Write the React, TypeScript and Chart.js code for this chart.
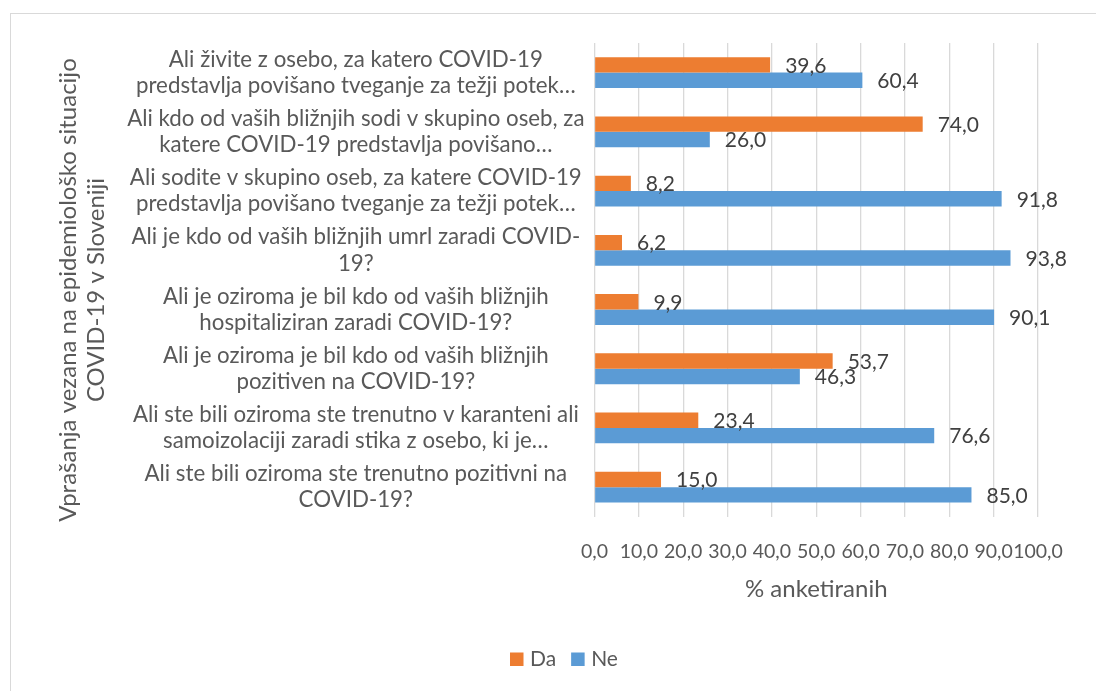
import React, { useEffect, useRef } from "react";
import { Chart, registerables } from "chart.js";

Chart.register(...registerables);

const categories: string[][] = [
  ["Ali živite z osebo, za katero COVID-19", "predstavlja povišano tveganje za težji potek…"],
  ["Ali kdo od vaših bližnjih sodi v skupino oseb, za", "katere COVID-19 predstavlja povišano…"],
  ["Ali sodite v skupino oseb, za katere COVID-19", "predstavlja povišano tveganje za težji potek…"],
  ["Ali je kdo od vaših bližnjih umrl zaradi COVID-", "19?"],
  ["Ali je oziroma je bil kdo od vaših bližnjih", "hospitaliziran zaradi COVID-19?"],
  ["Ali je oziroma je bil kdo od vaših bližnjih", "pozitiven na COVID-19?"],
  ["Ali ste bili oziroma ste trenutno v karanteni ali", "samoizolaciji zaradi stika z osebo, ki je…"],
  ["Ali ste bili oziroma ste trenutno pozitivni na", "COVID-19?"],
];
const daValues: number[] = [39.6, 74.0, 8.2, 6.2, 9.9, 53.7, 23.4, 15.0];
const neValues: number[] = [60.4, 26.0, 91.8, 93.8, 90.1, 46.3, 76.6, 85.0];
const seriesNames: string[] = ["Da", "Ne"];
const seriesColors: string[] = ["#ED7D31", "#5B9BD5"];
const xTitle = "% anketiranih";
const yTitle: string[] = ["Vprašanja vezana na epidemiološko situacijo", "COVID-19 v Sloveniji"];

const FONT = "Lato, 'Open Sans', sans-serif";
const TEXT = "#595959";

const fmt = (v: number) => v.toFixed(1).replace(".", ",");

const dataLabels = {
  id: "dataLabels",
  afterDatasetsDraw(chart: any) {
    const ctx = chart.ctx;
    ctx.save();
    ctx.font = `21px ${FONT}`;
    ctx.fillStyle = "#404040";
    ctx.textAlign = "left";
    ctx.textBaseline = "middle";
    chart.data.datasets.forEach((ds: any, i: number) => {
      const meta = chart.getDatasetMeta(i);
      meta.data.forEach((el: any, j: number) => {
        ctx.fillText(fmt(ds.data[j]), el.x + 15, el.y + 1);
      });
    });
    ctx.restore();
  },
};

const yAxisTitle = {
  id: "yAxisTitle",
  afterDraw(chart: any) {
    const ctx = chart.ctx;
    ctx.save();
    ctx.font = `24px ${FONT}`;
    ctx.fillStyle = TEXT;
    ctx.textAlign = "center";
    ctx.textBaseline = "middle";
    ctx.translate(68, 290);
    ctx.rotate(-Math.PI / 2);
    yTitle.forEach((line, i) => ctx.fillText(line, 0, i * 28));
    ctx.restore();
  },
};

const customLegend = {
  id: "customLegend",
  afterDraw(chart: any) {
    const ctx = chart.ctx;
    ctx.save();
    ctx.font = `21px ${FONT}`;
    ctx.textBaseline = "middle";
    ctx.textAlign = "left";
    const y = 659;
    let x = 510;
    chart.data.datasets.forEach((ds: any) => {
      ctx.fillStyle = ds.backgroundColor;
      ctx.fillRect(x, y - 6.5, 13.5, 13.5);
      ctx.fillStyle = TEXT;
      ctx.fillText(ds.label, x + 20, y);
      x += 20 + ctx.measureText(ds.label).width + 15;
    });
    ctx.restore();
  },
};

export default function App() {
  const ref = useRef<HTMLCanvasElement | null>(null);
  useEffect(() => {
    if (!ref.current) return;
    const chart = new Chart(ref.current, {
      type: "bar",
      data: {
        labels: categories,
        datasets: [
          { label: seriesNames[0], data: daValues, backgroundColor: seriesColors[0], categoryPercentage: 0.52, barPercentage: 1 },
          { label: seriesNames[1], data: neValues, backgroundColor: seriesColors[1], categoryPercentage: 0.52, barPercentage: 1 },
        ],
      },
      options: {
        indexAxis: "y",
        animation: false,
        responsive: true,
        maintainAspectRatio: false,
        layout: { padding: { left: 40, top: 43, right: 58, bottom: 87 } },
        plugins: {
          legend: { display: false },
          tooltip: { enabled: false },
        },
        scales: {
          x: {
            min: 0,
            max: 100,
            ticks: {
              stepSize: 10,
              autoSkip: false,
              maxRotation: 0,
              padding: 23,
              color: TEXT,
              font: { family: FONT, size: 19.5, lineHeight: 1.2 },
              callback: (v: any) => fmt(Number(v)),
            },
            grid: { color: "#d9d9d9", drawTicks: false, lineWidth: 1.3 },
            border: { display: false },
            title: {
              display: true,
              text: xTitle,
              color: TEXT,
              font: { family: FONT, size: 24, lineHeight: 1.2 },
              padding: { top: -11, bottom: 0 },
            },
          },
          y: {
            afterFit: (scale: any) => {
              scale.width = 554.5;
            },
            ticks: {
              crossAlign: "center",
              padding: 10,
              autoSkip: false,
              color: TEXT,
              font: { family: FONT, size: 22.3, lineHeight: 1.17 },
            },
            grid: { display: false, drawTicks: false },
            border: { display: false },
            title: { display: false },
          },
        },
      },
      plugins: [dataLabels, yAxisTitle, customLegend],
    } as any);
    return () => chart.destroy();
  }, []);

  return (
    <div style={{ position: "absolute", left: 0, top: 0, width: 1096, height: 691, overflow: "hidden", background: "#fff" }}>
      <div style={{ position: "absolute", left: 10, top: 13, width: 1120, height: 720, border: "1.5px solid #d9d9d9" }} />
      <div style={{ position: "absolute", left: 0, top: 0, width: 1096, height: 691 }}>
        <canvas ref={ref} />
      </div>
    </div>
  );
}
